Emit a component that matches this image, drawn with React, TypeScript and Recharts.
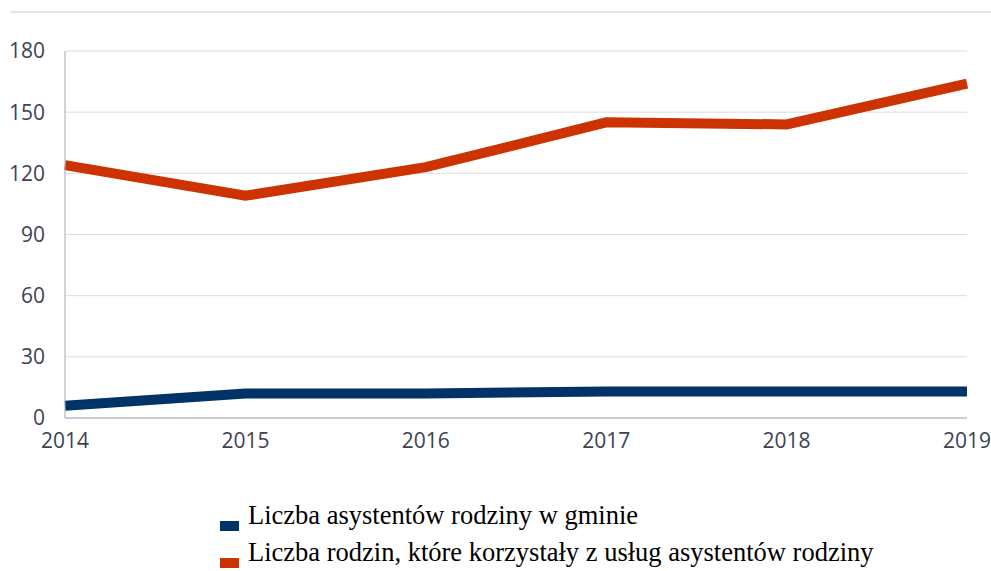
import { LineChart, Line, XAxis, YAxis, CartesianGrid, Legend } from "recharts";

const years = ["2014", "2015", "2016", "2017", "2018", "2019"];
const assistants = [6, 12, 12, 13, 13, 13];
const families = [124, 109, 123, 145, 144, 164];
const yTicks = [0, 30, 60, 90, 120, 150, 180];

const seriesNames = {
  assistants: "Liczba asystentów rodziny w gminie",
  families: "Liczba rodzin, które korzystały z usług asystentów rodziny",
};

const BLUE = "#003366";
const RED = "#CC3300";

const data = years.map((year, i) => ({
  year,
  assistants: assistants[i],
  families: families[i],
}));

const LegendBox = () => (
  <div style={{ fontFamily: "'Liberation Serif', 'Times New Roman', serif", fontSize: 26.5, color: "#000", lineHeight: "37px", marginTop: 6 }}>
    {[
      { name: seriesNames.assistants, color: BLUE },
      { name: seriesNames.families, color: RED },
    ].map((item) => (
      <div key={item.name} style={{ display: "flex", alignItems: "flex-end", whiteSpace: "nowrap" }}>
        <span style={{ display: "inline-block", width: 19, height: 10, background: item.color, marginRight: 9, marginBottom: 3 }} />
        <span>{item.name}</span>
      </div>
    ))}
  </div>
);

const tickStyle = { fontFamily: "'Open Sans', sans-serif", fontSize: 21, fill: "#404253" };

export default function App() {
  return (
    <div style={{ position: "absolute", left: 0, top: 0, width: 991, height: 571, background: "#fff" }}>
      <div style={{ position: "absolute", left: 10, right: 0, top: 11, height: 2, background: "#e3e3e8" }} />
      <LineChart width={991} height={571} data={data} margin={{ top: 51, right: 24, left: 15, bottom: 43 }}>
        <CartesianGrid vertical={false} stroke="#dcdce2" strokeWidth={1} />
        <XAxis
          dataKey="year"
          axisLine={{ stroke: "#a3a6bb", strokeWidth: 1 }}
          tickLine={false}
          tick={tickStyle}
          height={30}
          tickMargin={9}
          interval={0}
        />
        <YAxis
          domain={[0, 180]}
          ticks={yTicks}
          axisLine={{ stroke: "#a3a6bb", strokeWidth: 1 }}
          tickLine={false}
          tick={tickStyle}
          width={50}
          tickMargin={14}
        />
        <Legend
          verticalAlign="bottom"
          content={<LegendBox />}
          wrapperStyle={{ left: 220, bottom: 0, width: "auto", height: 80 }}
        />
        <Line
          dataKey="assistants"
          name={seriesNames.assistants}
          stroke={BLUE}
          strokeWidth={10}
          dot={false}
          type="linear"
          isAnimationActive={false}
        />
        <Line
          dataKey="families"
          name={seriesNames.families}
          stroke={RED}
          strokeWidth={10}
          dot={false}
          type="linear"
          isAnimationActive={false}
        />
      </LineChart>
    </div>
  );
}
